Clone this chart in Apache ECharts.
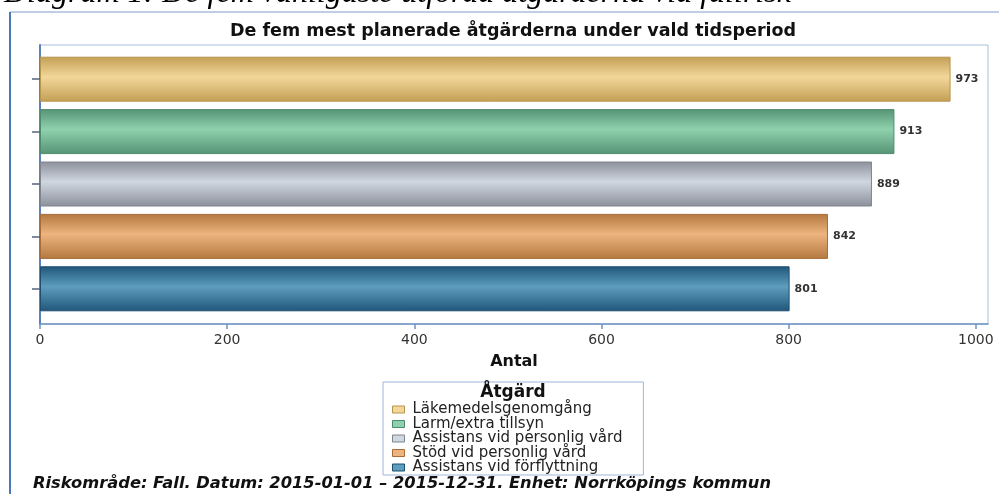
<!DOCTYPE html>
<html>
<head>
<meta charset="utf-8">
<script src="https://cdn.jsdelivr.net/npm/echarts@6/dist/echarts.min.js"></script>
<style>
  html, body { margin: 0; padding: 0; background: #ffffff; }
  #chart { width: 999px; height: 494px; }
</style>
</head>
<body>
<div id="chart"></div>
<script>
// data
const categories = ['Läkemedelsgenomgång', 'Larm/extra tillsyn', 'Assistans vid personlig vård', 'Stöd vid personlig vård', 'Assistans vid förflyttning'];
const values = [973, 913, 889, 842, 801];
const xTicks = [0, 200, 400, 600, 800, 1000];

// bar shades: [edge, middle, border]
const shades = [
    ['#c39f55', '#f2d79a', '#b8954c'],
    ['#559475', '#8fd1ad', '#4f8a6c'],
    ['#8b909b', '#d0d7e0', '#7f8590'],
    ['#b47840', '#edb47f', '#a86c36'],
    ['#20567a', '#5d9dbd', '#1d4e70']
];

const chart = echarts.init(document.getElementById('chart'));
const FONT = 'DejaVu Sans';
const xMax = 1013;

function grad(s) {
    return new echarts.graphic.LinearGradient(0, 0, 0, 1, [
        { offset: 0, color: s[0] },
        { offset: 0.45, color: s[1] },
        { offset: 1, color: s[0] }
    ]);
}

const series = categories.map(function (name, i) {
    return {
        name: name,
        type: 'bar',
        stack: 'all',
        xAxisIndex: 0,
        yAxisIndex: 0,
        barWidth: 45,
        data: categories.map(function (c, j) { return j === i ? values[i] : null; }),
        itemStyle: { color: grad(shades[i]), borderColor: shades[i][2], borderWidth: 1 },
        label: {
            show: true,
            position: 'right',
            distance: 5,
            color: '#333',
            fontFamily: FONT,
            fontSize: 11,
            fontWeight: 'bold'
        }
    };
});

const option = {
    backgroundColor: '#ffffff',
    animation: false,
    title: [
        {
            text: 'De fem mest planerade åtgärderna under vald tidsperiod',
            left: 513, top: 22, padding: 0, textAlign: 'center',
            textStyle: { fontFamily: FONT, fontSize: 17.5, fontWeight: 'bold', color: '#111' }
        },
        {
            text: 'Åtgärd',
            left: 513, top: 384, padding: 0, textAlign: 'center',
            textStyle: { fontFamily: FONT, fontSize: 17, fontWeight: 'bold', color: '#111' }
        }
    ],
    legend: {
        orient: 'vertical',
        left: 383, top: 382,
        padding: [20, 21, 0, 9],
        borderColor: '#9fb7d9',
        borderWidth: 1,
        itemWidth: 12, itemHeight: 7, itemGap: -0.5,
        icon: 'rect',
        selectedMode: false,
        data: categories.map(function (c, i) {
            return { name: c, itemStyle: { color: shades[i][1], borderColor: shades[i][2], borderWidth: 1 } };
        }),
        textStyle: { fontFamily: FONT, fontSize: 15, color: '#222', padding: [0, 0, 0, 3] }
    },
    grid: [
        { left: 40, right: 11, top: 53, bottom: 179 },
        { left: 40, right: 11, top: 45, bottom: 170, show: true, borderColor: '#a9bedc', borderWidth: 1, backgroundColor: '#ffffff' }
    ],
    xAxis: [
        { type: 'value', gridIndex: 0, min: 0, max: xMax, show: false },
        {
            type: 'value', gridIndex: 1, min: 0, max: xMax,
            name: 'Antal', nameLocation: 'middle', nameGap: 30,
            nameTextStyle: { fontFamily: FONT, fontSize: 16, fontWeight: 'bold', color: '#111' },
            axisLine: { show: true, lineStyle: { color: '#6f92c4', width: 1.5 } },
            axisTick: { show: true, length: 5, customValues: xTicks, lineStyle: { color: '#6f92c4', width: 1.5 } },
            axisLabel: {
                customValues: xTicks, margin: 9, fontFamily: FONT, fontSize: 14, color: '#333',
                formatter: function (v) { return String(v); }
            },
            splitLine: { show: false }
        }
    ],
    yAxis: [
        {
            type: 'category', gridIndex: 0, inverse: true, data: categories,
            axisLine: { show: false },
            axisTick: { show: true, alignWithLabel: true, length: 8, lineStyle: { color: '#56657a', width: 1.5 } },
            axisLabel: { show: false },
            splitLine: { show: false }
        },
        {
            type: 'value', gridIndex: 1,
            axisLine: { show: true, lineStyle: { color: '#5b82bd', width: 2 } },
            axisTick: { show: false }, axisLabel: { show: false }, splitLine: { show: false }
        }
    ],
    graphic: [
        {
            type: 'text', left: 4, top: -22, z: 10,
            style: { text: 'Diagram 1: De fem vanligaste utförda åtgärderna via fallrisk', font: 'italic 32px "Liberation Serif"', fill: '#000' }
        },
        { type: 'line', z: 9, shape: { x1: 10, y1: 12, x2: 999, y2: 12 }, style: { stroke: '#a9bfdc', lineWidth: 1.5 } },
        { type: 'line', z: 9, shape: { x1: 10, y1: 12, x2: 10, y2: 494 }, style: { stroke: '#4d78b5', lineWidth: 2 } },
        {
            type: 'text', left: 33, top: 476, z: 10,
            style: { text: 'Riskområde: Fall. Datum: 2015-01-01 – 2015-12-31. Enhet: Norrköpings kommun', font: 'italic bold 16.3px "DejaVu Sans"', fill: '#111' }
        }
    ],
    series: series
};

chart.setOption(option);
</script>
</body>
</html>
